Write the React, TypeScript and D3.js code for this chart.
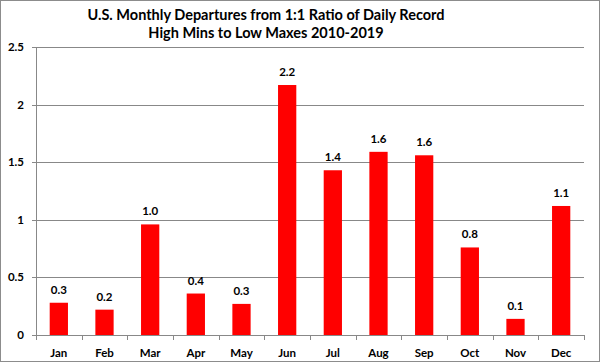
import React from 'react';
import * as d3 from 'd3';

const months = ['Jan', 'Feb', 'Mar', 'Apr', 'May', 'Jun', 'Jul', 'Aug', 'Sep', 'Oct', 'Nov', 'Dec'];
const departures = [0.28, 0.22, 0.96, 0.36, 0.27, 2.17, 1.43, 1.59, 1.56, 0.76, 0.14, 1.12];
const yTicks = [0, 0.5, 1, 1.5, 2, 2.5];
const titleLines = ['U.S. Monthly Departures from 1:1 Ratio of Daily Record', 'High Mins to Low Maxes 2010-2019'];

const W = 600;
const H = 362;
const font = 'Lato, "Open Sans", sans-serif';

export default function App() {
  // plot area
  const left = 36, right = 584, top = 47, bottom = 335;

  const x = d3.scaleBand<string>().domain(months).range([left, right]).paddingInner(0.6).paddingOuter(0.3);
  const band = (right - left) / months.length;
  const y = d3.scaleLinear().domain([0, 2.5]).range([bottom, top]);

  return (
    <svg width={W} height={H} style={{ position: 'absolute', left: 0, top: 0 }}>
      <rect x={0.5} y={0.5} width={W - 1} height={H - 1} fill="white" stroke="#8c8c8c" />
      {/* title */}
      {titleLines.map((t, i) => (
        <text key={t} x={266} y={19.5 + i * 18} textAnchor="middle" fontFamily={font}
          fontWeight="bold" fontSize={14.5} fill="#000">{t}</text>
      ))}
      {/* gridlines + y ticks */}
      {yTicks.map(v => (
        <g key={v}>
          <line x1={left - 4} x2={right} y1={Math.round(y(v)) + 0.5} y2={Math.round(y(v)) + 0.5} stroke="#888" />
          <text x={24} y={y(v) + 4} textAnchor="end" fontFamily={font} fontWeight="bold" fontSize={11.5}>{v}</text>
        </g>
      ))}
      {/* y axis */}
      <line x1={left + 0.5} x2={left + 0.5} y1={top} y2={bottom} stroke="#888" />
      {/* x ticks */}
      {d3.range(months.length + 1).map(i => (
        <line key={i} x1={Math.round(left + i * band) + 0.5} x2={Math.round(left + i * band) + 0.5}
          y1={bottom} y2={bottom + 5} stroke="#888" />
      ))}
      {/* bars */}
      {months.map((m, i) => (
        <g key={m}>
          <rect x={x(m)} y={y(departures[i])} width={x.bandwidth()} height={bottom - y(departures[i])} fill="#ff0000" />
          <text x={(x(m) as number) + x.bandwidth() / 2} y={y(departures[i]) - 9} textAnchor="middle"
            fontFamily={font} fontWeight="bold" fontSize={11.5}>{departures[i].toFixed(1)}</text>
          <text x={(x(m) as number) + x.bandwidth() / 2} y={357} textAnchor="middle"
            fontFamily={font} fontWeight="bold" fontSize={11.5}>{m}</text>
        </g>
      ))}
    </svg>
  );
}
